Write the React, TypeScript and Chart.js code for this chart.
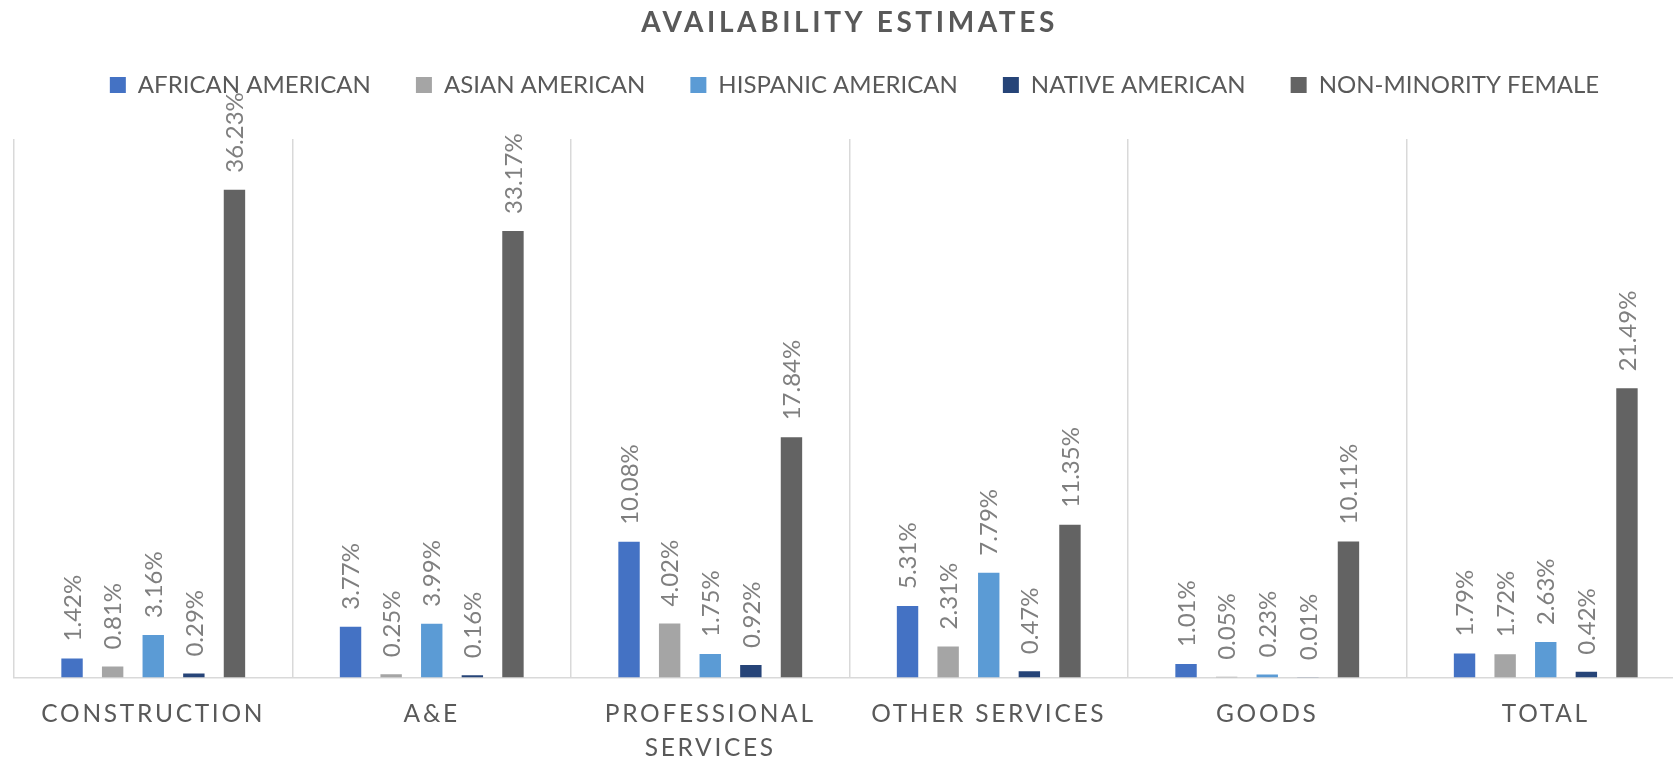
import React, { useEffect, useRef } from 'react';
import { Chart, registerables } from 'chart.js';

Chart.register(...registerables);

// ---- data ----
const categories: string[][] = [
  ['CONSTRUCTION'],
  ['A&E'],
  ['PROFESSIONAL', 'SERVICES'],
  ['OTHER SERVICES'],
  ['GOODS'],
  ['TOTAL'],
];
const seriesNames = [
  'AFRICAN AMERICAN',
  'ASIAN AMERICAN',
  'HISPANIC AMERICAN',
  'NATIVE AMERICAN',
  'NON-MINORITY FEMALE',
];
const africanAmerican = [1.42, 3.77, 10.08, 5.31, 1.01, 1.79];
const asianAmerican = [0.81, 0.25, 4.02, 2.31, 0.05, 1.72];
const hispanicAmerican = [3.16, 3.99, 1.75, 7.79, 0.23, 2.63];
const nativeAmerican = [0.29, 0.16, 0.92, 0.47, 0.01, 0.42];
const nonMinorityFemale = [36.23, 33.17, 17.84, 11.35, 10.11, 21.49];
const seriesColors = ['#4472C4', '#A5A5A5', '#5B9BD5', '#264478', '#636363'];
const titleText = 'AVAILABILITY ESTIMATES';

const FONT = "Lato, 'Noto Sans', sans-serif";
const TEXT_COLOR = '#595959';
const LABEL_COLOR = '#7f7f7f';

const dataLabelPlugin = {
  id: 'dataLabels',
  afterDatasetsDraw(chart: any) {
    const ctx = chart.ctx;
    ctx.save();
    ctx.font = `24px ${FONT}`;
    ctx.fillStyle = LABEL_COLOR;
    ctx.textAlign = 'left';
    ctx.textBaseline = 'middle';
    chart.data.datasets.forEach((ds: any, i: number) => {
      const meta = chart.getDatasetMeta(i);
      meta.data.forEach((bar: any, j: number) => {
        const v = ds.data[j];
        ctx.save();
        ctx.translate(bar.x + 1, bar.y - 17);
        ctx.rotate(-Math.PI / 2);
        ctx.fillText(v.toFixed(2) + '%', 0, 0);
        ctx.restore();
      });
    });
    ctx.restore();
  },
};

const spacingPlugin = {
  id: 'letterSpacing',
  beforeDraw(chart: any) {
    const x = chart.scales.x;
    if (x && !x.__wrapped) {
      const orig = x.drawLabels;
      x.drawLabels = function (area: any) {
        const ctx = chart.ctx;
        ctx.save();
        ctx.letterSpacing = '2.7px';
        orig.call(this, area);
        ctx.restore();
      };
      x.__wrapped = true;
    }
    const t = chart.titleBlock;
    if (t && !t.__wrapped) {
      const origT = t.draw;
      t.draw = function () {
        const ctx = chart.ctx;
        ctx.save();
        ctx.letterSpacing = '3.6px';
        origT.call(this);
        ctx.restore();
      };
      t.__wrapped = true;
    }
    const lg = chart.legend;
    if (lg && !lg.__wrapped) {
      const origL = lg.draw;
      lg.draw = function () {
        const ctx = chart.ctx;
        ctx.save();
        ctx.translate(5, 0);
        origL.call(this);
        ctx.restore();
      };
      lg.__wrapped = true;
    }
  },
};

export default function App() {
  const ref = useRef<HTMLCanvasElement | null>(null);
  useEffect(() => {
    if (!ref.current) return;
    const seriesData = [africanAmerican, asianAmerican, hispanicAmerican, nativeAmerican, nonMinorityFemale];
    const chart = new Chart(ref.current, {
      type: 'bar',
      data: {
        labels: categories,
        datasets: seriesNames.map((name, i) => ({
          label: name,
          data: seriesData[i],
          backgroundColor: seriesColors[i],
          borderWidth: 0,
          categoryPercentage: 0.729,
          barPercentage: 0.527,
        })),
      },
      options: {
        responsive: false,
        animation: false,
        devicePixelRatio: 1,
        layout: { padding: { left: 14, right: 11, top: 0, bottom: 0 } },
        plugins: {
          title: {
            display: true,
            text: titleText,
            color: TEXT_COLOR,
            font: { family: FONT, size: 28, weight: 'bold', lineHeight: 1.2 },
            padding: { top: 6, bottom: -11.6 },
          },
          subtitle: {
            display: true,
            text: ' ',
            weight: 500,
            font: { size: 1, lineHeight: 1 },
            padding: { top: 0, bottom: 31 },
          } as any,
          legend: {
            display: true,
            position: 'top',
            labels: {
              color: TEXT_COLOR,
              font: { family: FONT, size: 24 },
              boxWidth: 16,
              boxHeight: 16,
              padding: 45,
            },
          },
          tooltip: { enabled: false },
        },
        scales: {
          x: {
            grid: { offset: true, color: '#d9d9d9', lineWidth: 1.5, drawTicks: false },
            border: { color: '#d9d9d9', width: 1.5 },
            ticks: {
              color: TEXT_COLOR,
              font: { family: FONT, size: 24.5, lineHeight: 1.4 },
              padding: 19,
              maxRotation: 0,
              minRotation: 0,
              autoSkip: false,
            },
            afterFit(scale: any) {
              scale.height = 82.5;
            },
          },
          y: {
            display: false,
            min: 0,
            max: 40,
          },
        },
      },
      plugins: [dataLabelPlugin, spacingPlugin],
    } as any);
    return () => chart.destroy();
  }, []);
  return (
    <div
      style={{
        position: 'absolute',
        left: 0,
        top: 0,
        width: 1673,
        height: 760,
        overflow: 'hidden',
        background: '#ffffff',
      }}
    >
      <canvas ref={ref} width={1696} height={760} style={{ display: 'block', width: 1696, height: 760 }} />
    </div>
  );
}
